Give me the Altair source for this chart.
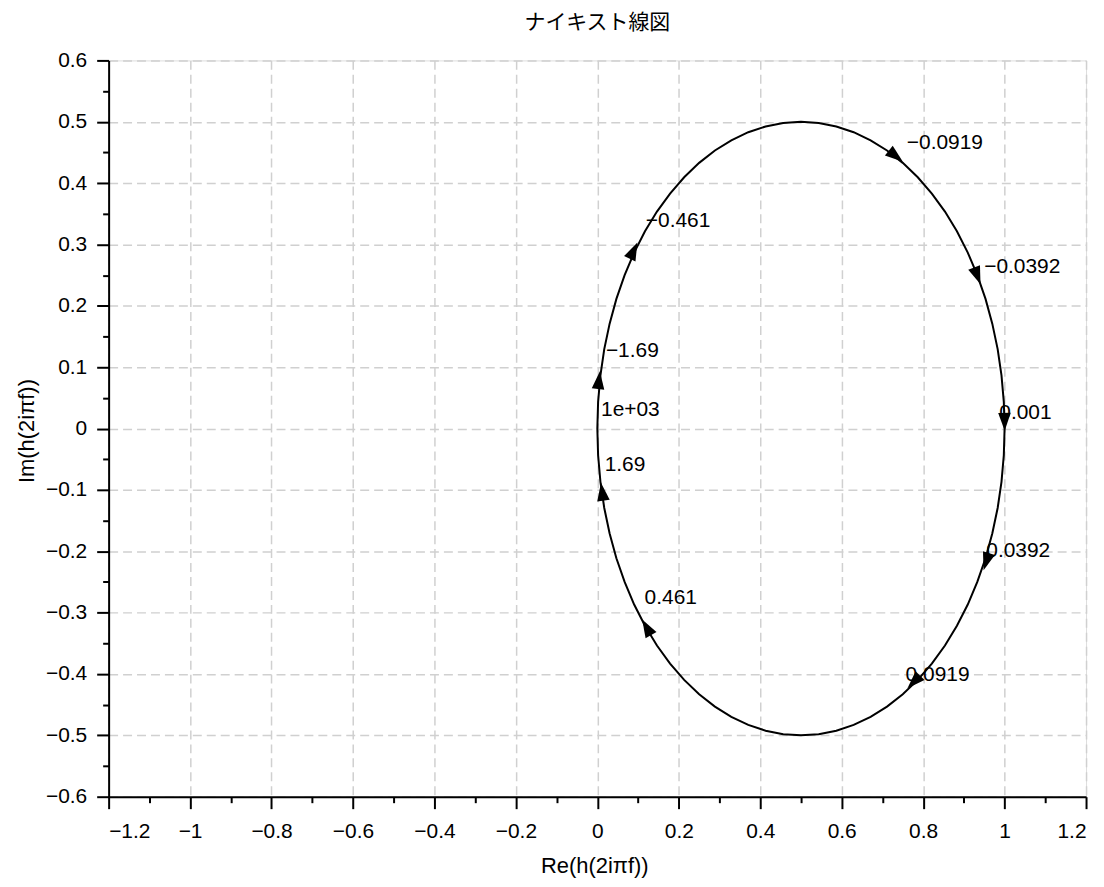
import altair as alt
import pandas as pd
import numpy as np

TITLE = "ナイキスト線図"
X_TITLE = "Re(h(2iπf))"
Y_TITLE = "Im(h(2iπf))"

# Nyquist curve points (Re, Im)
RE = [0.0, 0.0019, 0.0076, 0.0170, 0.0302, 0.0468, 0.0670, 0.0904, 0.1170, 0.1464,
      0.1786, 0.2132, 0.25, 0.2887, 0.3290, 0.3706, 0.4132, 0.4564, 0.5, 0.5436,
      0.5868, 0.6294, 0.6710, 0.7113, 0.75, 0.7868, 0.8214, 0.8536, 0.8830, 0.9096,
      0.9330, 0.9532, 0.9698, 0.9830, 0.9924, 0.9981, 1.0,
      0.9981, 0.9924, 0.9830, 0.9698, 0.9532, 0.9330, 0.9096, 0.8830, 0.8536, 0.8214,
      0.7868, 0.75, 0.7113, 0.6710, 0.6294, 0.5868, 0.5436, 0.5, 0.4564, 0.4132,
      0.3706, 0.3290, 0.2887, 0.25, 0.2132, 0.1786, 0.1464, 0.1170, 0.0904, 0.0670,
      0.0468, 0.0302, 0.0170, 0.0076, 0.0019, 0.0]
IM = [0.0, 0.0436, 0.0868, 0.1294, 0.1710, 0.2113, 0.25, 0.2868, 0.3214, 0.3536,
      0.3830, 0.4096, 0.4330, 0.4532, 0.4698, 0.4830, 0.4924, 0.4981, 0.5, 0.4981,
      0.4924, 0.4830, 0.4698, 0.4532, 0.4330, 0.4096, 0.3830, 0.3536, 0.3214, 0.2868,
      0.25, 0.2113, 0.1710, 0.1294, 0.0868, 0.0436, 0.0,
      -0.0436, -0.0868, -0.1294, -0.1710, -0.2113, -0.25, -0.2868, -0.3214, -0.3536, -0.3830,
      -0.4096, -0.4330, -0.4532, -0.4698, -0.4830, -0.4924, -0.4981, -0.5, -0.4981, -0.4924,
      -0.4830, -0.4698, -0.4532, -0.4330, -0.4096, -0.3830, -0.3536, -0.3214, -0.2868, -0.25,
      -0.2113, -0.1710, -0.1294, -0.0868, -0.0436, 0.0]

# Frequency annotations
LABELS = ["−0.0919", "−0.0392", "0.001", "0.0392", "0.0919", "0.461", "1.69", "1e+03", "−1.69", "−0.461"]
LABEL_RE = [0.760, 0.950, 0.987, 0.955, 0.757, 0.116, 0.018, 0.009, 0.021, 0.119]
LABEL_IM = [0.465, 0.264, 0.025, -0.200, -0.402, -0.277, -0.059, 0.030, 0.126, 0.339]

# Direction arrows on the contour
ARROW_RE = [0.733, 0.933, 1.0, 0.955, 0.777, 0.121, 0.012, 0.004, 0.089]
ARROW_IM = [0.444, 0.249, 0.011, -0.217, -0.413, -0.324, -0.103, 0.079, 0.290]

X_DOMAIN = [-1.2, 1.2]
Y_DOMAIN = [-0.6, 0.6]
X_TICKS = [-1.2, -1.0, -0.8, -0.6, -0.4, -0.2, 0.0, 0.2, 0.4, 0.6, 0.8, 1.0, 1.2]
Y_TICKS = [-0.6, -0.5, -0.4, -0.3, -0.2, -0.1, 0.0, 0.1, 0.2, 0.3, 0.4, 0.5, 0.6]
X_MINOR = [-1.1, -0.9, -0.7, -0.5, -0.3, -0.1, 0.1, 0.3, 0.5, 0.7, 0.9, 1.1]
Y_MINOR = [-0.55, -0.45, -0.35, -0.25, -0.15, -0.05, 0.05, 0.15, 0.25, 0.35, 0.45, 0.55]

W, H = 981, 739
FONT = "Liberation Sans"

curve = pd.DataFrame({"re": RE, "im": IM, "i": list(range(len(RE)))})
labels = pd.DataFrame({"re": LABEL_RE, "im": LABEL_IM, "t": LABELS})

# arrow orientation: tangent of the contour (clockwise on screen) in pixel space
sx_per = W / (X_DOMAIN[1] - X_DOMAIN[0])
sy_per = H / (Y_DOMAIN[1] - Y_DOMAIN[0])
cx = (min(RE) + max(RE)) / 2
rx = (max(RE) - min(RE)) / 2 * sx_per
ry = (max(IM) - min(IM)) / 2 * sy_per
ar = np.array(ARROW_RE)
ai = np.array(ARROW_IM)
px = (ar - cx) * sx_per
py = -ai * sy_per
t = np.arctan2(py / ry, px / rx)
dx = -rx * np.sin(t)
dy = ry * np.cos(t)
ang = np.degrees(np.arctan2(dx, -dy)) % 360
arrows = pd.DataFrame({"re": ARROW_RE, "im": ARROW_IM, "ang": ang})

xs = alt.Scale(domain=X_DOMAIN, nice=False, zero=False)
ys = alt.Scale(domain=Y_DOMAIN, nice=False, zero=False)

common_axis = dict(
    domainColor="black", domainWidth=2, tickColor="black", tickWidth=2, tickSize=12,
    labelFont=FONT, labelFontSize=21, labelColor="black", format="~g",
    grid=True, gridColor="#d0d0d0", gridDash=[9, 5], gridWidth=1.5,
    titleFont=FONT, titleFontSize=22, titleColor="black", titleFontWeight="normal",
)

x_axis = alt.Axis(values=X_TICKS, orient="bottom", labelPadding=12, title=X_TITLE,
                  titleX=W / 2 - 3, titleY=76, titleBaseline="alphabetic", titleAlign="center",
                  **common_axis)
y_axis = alt.Axis(values=Y_TICKS, orient="left", labelPadding=10, title=Y_TITLE,
                  titleX=-75, titleY=H / 2 + 2, titleAngle=270, titleBaseline="alphabetic",
                  titleAlign="center", **common_axis)

line = alt.Chart(curve).mark_line(color="black", strokeWidth=2).encode(
    x=alt.X("re:Q", scale=xs, axis=x_axis),
    y=alt.Y("im:Q", scale=ys, axis=y_axis),
    order="i:Q",
)

minor = alt.Chart(curve).mark_line(strokeOpacity=0).encode(
    x=alt.X("re:Q", scale=xs, axis=alt.Axis(values=X_MINOR, orient="bottom", tickSize=6, tickWidth=2,
                                            tickColor="black", labels=False, domain=False, grid=False,
                                            title=None)),
    y=alt.Y("im:Q", scale=ys, axis=alt.Axis(values=Y_MINOR, orient="left", tickSize=6, tickWidth=2,
                                            tickColor="black", labels=False, domain=False, grid=False,
                                            title=None)),
    order="i:Q",
)

arrow_marks = alt.Chart(arrows).mark_point(
    shape="M0,-1L0.7,1L-0.7,1Z", filled=True, color="black", opacity=1, size=324
).encode(
    x=alt.X("re:Q", scale=xs, axis=None),
    y=alt.Y("im:Q", scale=ys, axis=None),
    angle=alt.Angle("ang:Q", scale=None),
)

text_marks = alt.Chart(labels).mark_text(
    align="left", baseline="middle", font=FONT, fontSize=21, color="black"
).encode(
    x=alt.X("re:Q", scale=xs, axis=None),
    y=alt.Y("im:Q", scale=ys, axis=None),
    text="t:N",
)

chart = alt.layer(minor, line, arrow_marks, text_marks).resolve_axis(
    x="independent", y="independent"
).properties(
    width=W, height=H,
    title=alt.Title(TITLE, font="Noto Sans CJK JP", fontSize=21, fontWeight="normal",
                    color="black", anchor="middle", frame="group", offset=17),
    padding={"left": 101, "top": 51, "right": 10, "bottom": 81},
    autosize=alt.AutoSizeParams(type="none"),
).configure_view(stroke=None).configure(background="white")

chart.save("out.html", embed_options={"renderer": "svg", "actions": False})
